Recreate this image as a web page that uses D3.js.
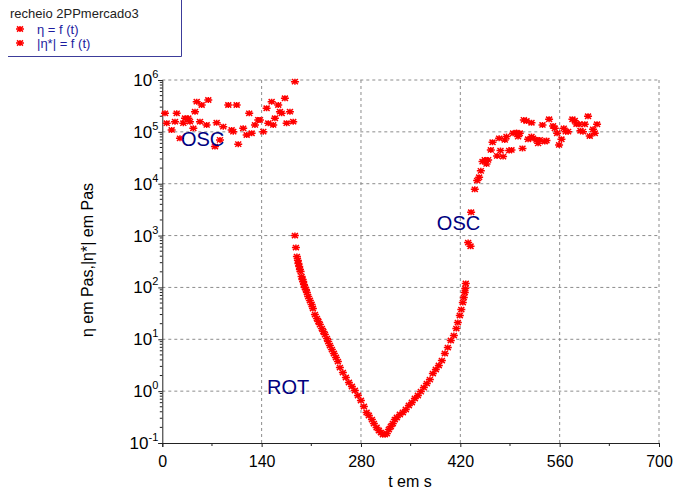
<!DOCTYPE html>
<html><head><meta charset="utf-8">
<script src="https://cdn.jsdelivr.net/npm/d3@7"></script>
<style>body{margin:0;background:#fff}svg{display:block}text{font-family:Arial,"Liberation Sans",sans-serif}</style>
</head><body><svg id="c" width="682" height="490"></svg>
<script>
// ROT series: eta = f(t)
const rotT = [186.9,188.3,189.7,191.1,191.8,193.0,193.9,194.9,196.3,197.5,198.6,199.6,201.0,202.4,203.8,205.6,208.0,210.4,212.3,215.1,217.9,220.0,222.1,224.9,227.0,229.2,232.0,233.8,236.2,239.0,241.8,244.7,247.5,250.3,254.5,258.7,263.0,267.2,271.4,275.7,279.9,284.1,287.9,291.1,295.4,298.2,302.0,305.2,308.1,310.9,313.7,316.5,
  319.3,322.1,324.9,327.7,330.6,334.8,339.0,343.2,347.5,351.7,355.9,360.2,364.4,368.6,372.8,377.1,381.3,385.5,389.7,394.0,398.2,402.4,406.6,410.9,414.4,416.5,419.3,421.4,423.5,424.9,426.3,427.0,427.7,431.0,434.4,435.2];
const rotEta = [1000,587,394,330,289,253,221,202,162,142,130,114,99.5,91,79.7,66.7,55.9,46.8,39.2,30.0,25.1,22.0,19.2,16.1,14.1,12.3,10.3,9.04,7.57,6.34,5.31,4.45,3.72,2.85,2.28,1.83,1.47,1.23,1.03,0.823,0.659,0.505,0.387,0.339,0.283,0.237,0.199,0.174,0.159,0.146,0.146,0.152,
  0.182,0.208,0.237,0.283,0.310,0.354,0.387,0.442,0.528,0.603,0.720,0.823,0.98,1.17,1.40,1.67,2.18,2.61,3.12,3.89,5.31,6.93,9.46,11.8,16.1,21.0,28.7,37.4,51.1,63.8,79.7,95.1,119,733,622,2820];
// OSC series: |eta*| = f(t)
const oscT = [3.8,6.2,13.2,17.9,20.3,24.9,29.6,32.0,36.6,39.0,43.7,46.1,48.5,53.1,55.5,62.5,64.8,74.2,76.6,81.3,85.9,93.0,97.7,100.0,104.8,107.0,114.0,118.9,122.5,125.9,130.6,135.2,137.6,142.3,147.0,149.3,154.1,156.3,158.7,163.4,165.8,168.2,172.8,175.2,179.9,184.5,186.9,
  440.4,443.7,446.5,448.9,451.3,454.5,456.9,459.2,463.0,465.4,471.8,474.7,476.6,480.3,482.7,485.1,488.8,492.1,494.4,499.2,501.4,503.8,507.6,509.5,513.3,515.5,520.3,520.3,522.6,527.3,529.6,532.0,535.8,539.0,541.4,545.1,550.7,553.2,556.4,559.2,562.5,565.8,568.6,571.9,578.0,581.3,583.7,587.3,589.3,592.9,595.4,600.0,602.4,607.1,609.5,612.7];
const oscEta = [2.28e5,1.47e5,1.09e5,1.57e5,2.28e5,7.5e4,1.47e5,1.83e5,1.83e5,1.57e5,1.17e5,2.45e5,3.82e5,1.57e5,3.3e5,1.36e5,4.12e5,5.2e4,1.5e5,7.0e4,1.26e5,3.3e5,1.09e5,1.01e5,3.3e5,5.8e4,1.17e5,8.7e4,2.28e5,9.4e4,1.36e5,1.7e5,1.7e5,1.01e5,2.85e5,1.47e5,3.82e5,1.36e5,1.83e5,3.3e5,2.45e5,2.28e5,4.44e5,1.47e5,2.45e5,1.57e5,9.3e5,
  7.8e3,1.15e4,1.33e4,1.77e4,2.67e4,2.88e4,2.41e4,2.88e4,4.48e4,6.3e4,3.44e4,7.5e4,4.35e4,3.33e4,7.0e4,8.1e4,4.35e4,4.48e4,9.4e4,9.7e4,8.1e4,9.4e4,4.8e4,1.7e5,1.62e5,7.2e4,1.5e5,8.1e4,7.5e4,7.0e4,6.0e4,7.0e4,1.36e5,6.5e4,6.8e4,1.75e5,1.3e5,1.17e5,9.4e4,5.6e4,7.2e4,1.17e5,1.01e5,1.01e5,1.75e5,1.64e5,1.42e5,1.4e5,1.05e5,1.01e5,1.4e5,2.0e5,8.3e4,1.12e5,9.4e4,1.4e5];

const xTicks = [0,140,280,420,560,700];
const xMinor = [70,210,350,490,630];
const yExps = [-1,0,1,2,3,4,5,6];
const legendTitle = "recheio 2PPmercado3";
const legendLabels = ["\u03B7 = f (t)", "|\u03B7*| = f (t)"];
const annotations = [
  {text:"OSC", t:26.3, v:5.4e4},
  {text:"ROT", t:147.5, v:0.9},
  {text:"OSC", t:386.9, v:1295}
];

const svg = d3.select("#c");
const x = d3.scaleLinear().domain([0,700]).range([162.3,659]);
const y = d3.scaleLog().domain([0.1,1e6]).range([443,80]);

const starPath = "M-4,0H4M-3,-2.6L3,2.6M-3,2.6L3,-2.6M0,-3V3";
const red = "#ff0000";
const navy = "#000080";

// grid
const g = svg.append("g");
g.selectAll(".gx").data(xTicks.slice(1)).join("line")
  .attr("x1",d=>x(d)).attr("x2",d=>x(d)).attr("y1",y(0.1)).attr("y2",y(1e6))
  .attr("stroke","#8c8c8c").attr("stroke-dasharray","3,3");
g.selectAll(".gy").data(yExps.slice(1)).join("line")
  .attr("x1",x(0)).attr("x2",x(700)).attr("y1",d=>y(Math.pow(10,d))).attr("y2",d=>y(Math.pow(10,d)))
  .attr("stroke","#8c8c8c").attr("stroke-dasharray","3,3");

// x axis
const xAxis = d3.axisBottom(x).tickValues(xTicks).tickSize(4).tickFormat(d3.format("d"));
const xg = svg.append("g").attr("transform",`translate(0,${y(0.1)})`).call(xAxis);
xg.select(".domain").attr("stroke","#222");
xg.selectAll(".tick line").attr("stroke","#222");
xg.selectAll(".tick text").attr("font-size",16).attr("fill","#000").attr("dy","1.05em");
svg.append("g").selectAll("line").data(xMinor).join("line")
  .attr("x1",d=>x(d)).attr("x2",d=>x(d)).attr("y1",y(0.1)).attr("y2",y(0.1)+3).attr("stroke","#222");

// y axis
const yAxis = d3.axisLeft(y).tickValues(yExps.map(e=>Math.pow(10,e))).tickSize(4).tickFormat("");
const yg = svg.append("g").attr("transform",`translate(${x(0)},0)`).call(yAxis);
yg.select(".domain").attr("stroke","#222");
yg.selectAll(".tick line").attr("stroke","#222");
const minor = [];
yExps.slice(0,-1).forEach(e=>{ for(let k=2;k<10;k++) minor.push(k*Math.pow(10,e)); });
svg.append("g").selectAll("line").data(minor).join("line")
  .attr("x1",x(0)-2.5).attr("x2",x(0)).attr("y1",d=>y(d)).attr("y2",d=>y(d)).attr("stroke","#222");
const yl = svg.append("g").selectAll("text").data(yExps).join("text")
  .attr("x",x(0)-4).attr("y",d=>y(Math.pow(10,d))+6)
  .attr("text-anchor","end").attr("font-size",17).attr("fill","#000");
yl.append("tspan").text("10");
yl.append("tspan").attr("dy",-8).attr("font-size",11).text(d=>String(d));

// axis titles
svg.append("text").attr("x",410).attr("y",487).attr("text-anchor","middle")
  .attr("font-size",16).attr("fill","#000").text("t em s");
svg.append("text").attr("transform","translate(93,260) rotate(-90)").attr("text-anchor","middle")
  .attr("font-size",16).attr("fill","#000").text("\u03B7 em Pas,|\u03B7*| em Pas");

// data
const pts = svg.append("g").attr("fill","none").attr("stroke",red).attr("stroke-width",1.5);
pts.selectAll(".o").data(oscT.map((t,i)=>[t,oscEta[i]])).join("path")
  .attr("d",starPath).attr("transform",d=>`translate(${x(d[0])},${y(d[1])})`);
pts.selectAll(".r").data(rotT.map((t,i)=>[t,rotEta[i]])).join("path")
  .attr("d",starPath).attr("transform",d=>`translate(${x(d[0])},${y(d[1])})`);

// annotations
svg.append("g").selectAll("text").data(annotations).join("text")
  .attr("x",d=>x(d.t)).attr("y",d=>y(d.v)).attr("font-size",20).attr("fill",navy).text(d=>d.text);

// legend
const lg = svg.append("g");
lg.append("path").attr("d","M8,56.5H181.5V0").attr("fill","none").attr("stroke","#3c3c9a").attr("stroke-width",1);
lg.append("text").attr("x",10).attr("y",18).attr("font-size",13).attr("fill","#222").text(legendTitle);
legendLabels.forEach((l,i)=>{
  lg.append("path").attr("d",starPath).attr("transform",`translate(20,${29+i*14})`)
    .attr("fill","none").attr("stroke",red).attr("stroke-width",1.5);
  lg.append("text").attr("x",37).attr("y",34+i*14).attr("font-size",13).attr("fill","#1c1ca0").text(l);
});
</script></body></html>
